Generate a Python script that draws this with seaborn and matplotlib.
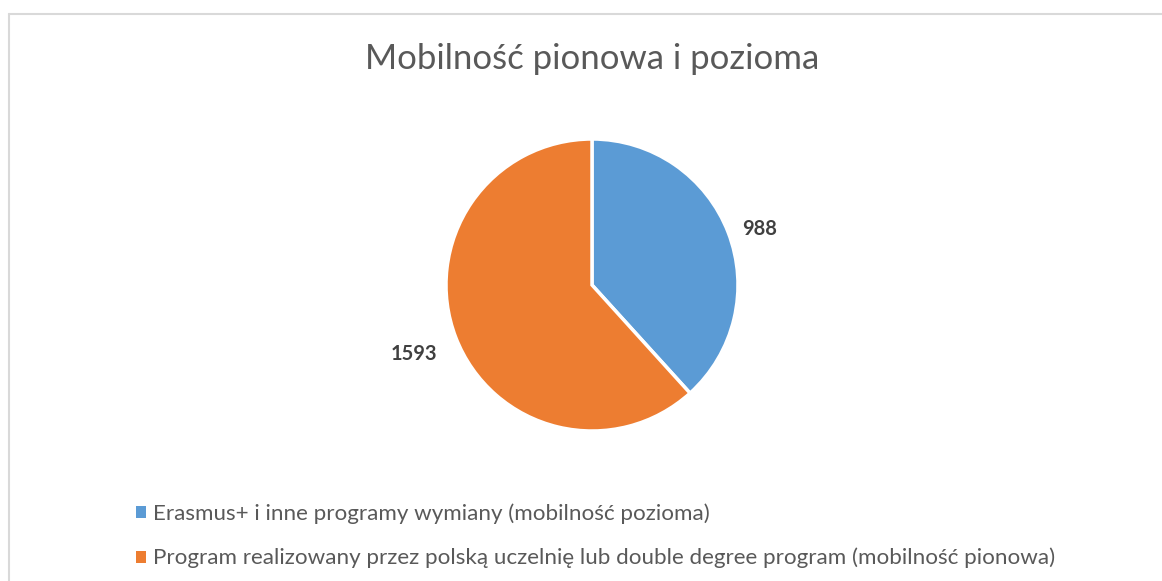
import matplotlib
matplotlib.use("Agg")
import numpy as np
import matplotlib.pyplot as plt
import seaborn as sns
from matplotlib.lines import Line2D
from matplotlib.patches import Patch

# ---- data ----
categories = [
    "Erasmus+ i inne programy wymiany (mobilność pozioma)",
    "Program realizowany przez polską uczelnię lub double degree program (mobilność pionowa)",
]
values = [988, 1593]
colors = ["#5B9BD5", "#ED7D31"]
title = "Mobilność pionowa i pozioma"

sns.set_theme(style="white")
plt.rcParams["font.family"] = ["Lato", "DejaVu Sans"]

W, H = 1162, 581
fig = plt.figure(figsize=(W / 100, H / 100), dpi=100)
fig.patch.set_facecolor("white")

# chart-area border (top and left visible)
border = "#D9D9D9"
fig.add_artist(Line2D([9 / W, 9 / W], [0, 1 - 14 / H], color=border, lw=1.5))
fig.add_artist(Line2D([9 / W, 1], [1 - 14 / H, 1 - 14 / H], color=border, lw=1.5))

cx, cy, r = 592, 285, 146
ax = fig.add_axes([(cx - r) / W, (H - cy - r) / H, 2 * r / W, 2 * r / H])
wedges, texts = ax.pie(
    values,
    labels=[str(v) for v in values],
    colors=colors,
    startangle=90,
    counterclock=False,
    labeldistance=1.27,
    wedgeprops=dict(edgecolor="white", linewidth=2.5),
    textprops=dict(fontsize=14, fontweight="bold", color="#404040"),
)
# place each label along its wedge's bisector (Excel "best fit" style)
label_dist = [1.21, 1.31]
label_rot = [-2.5, 0.0]
for w, t, d, dr in zip(wedges, texts, label_dist, label_rot):
    ang = np.deg2rad((w.theta1 + w.theta2) / 2 + dr)
    t.set_position((d * np.cos(ang), d * np.sin(ang)))
    t.set_ha("center")
    t.set_va("center")
ax.set_xlim(-1, 1)
ax.set_ylim(-1, 1)
ax.set_aspect("equal")
ax.axis("off")

ttl = fig.text(cx / W, 1 - 69 / H, title, ha="center", va="baseline",
               fontsize=24, color="#595959")

handles = [Patch(facecolor=c, edgecolor="none") for c in colors]
leg = fig.legend(
    handles, categories,
    loc="upper left", bbox_to_anchor=(136 / W, 1 - 503 / H),
    frameon=False, fontsize=15, labelcolor="#595959",
    handlelength=0.5, handleheight=0.5, handletextpad=0.3,
    labelspacing=1.15, borderpad=0, borderaxespad=0,
)


def fit(t, target):
    fig.canvas.draw()
    w = t.get_window_extent().width
    t.set_fontsize(t.get_fontsize() * target / w)


fit(ttl, 455)
fit(texts[0], 35)
texts[1].set_fontsize(texts[0].get_fontsize())
fit(leg.get_texts()[0], 555)
for lt in leg.get_texts():
    lt.set_fontsize(leg.get_texts()[0].get_fontsize())

fig.savefig("out.png", dpi=100, facecolor="white")
